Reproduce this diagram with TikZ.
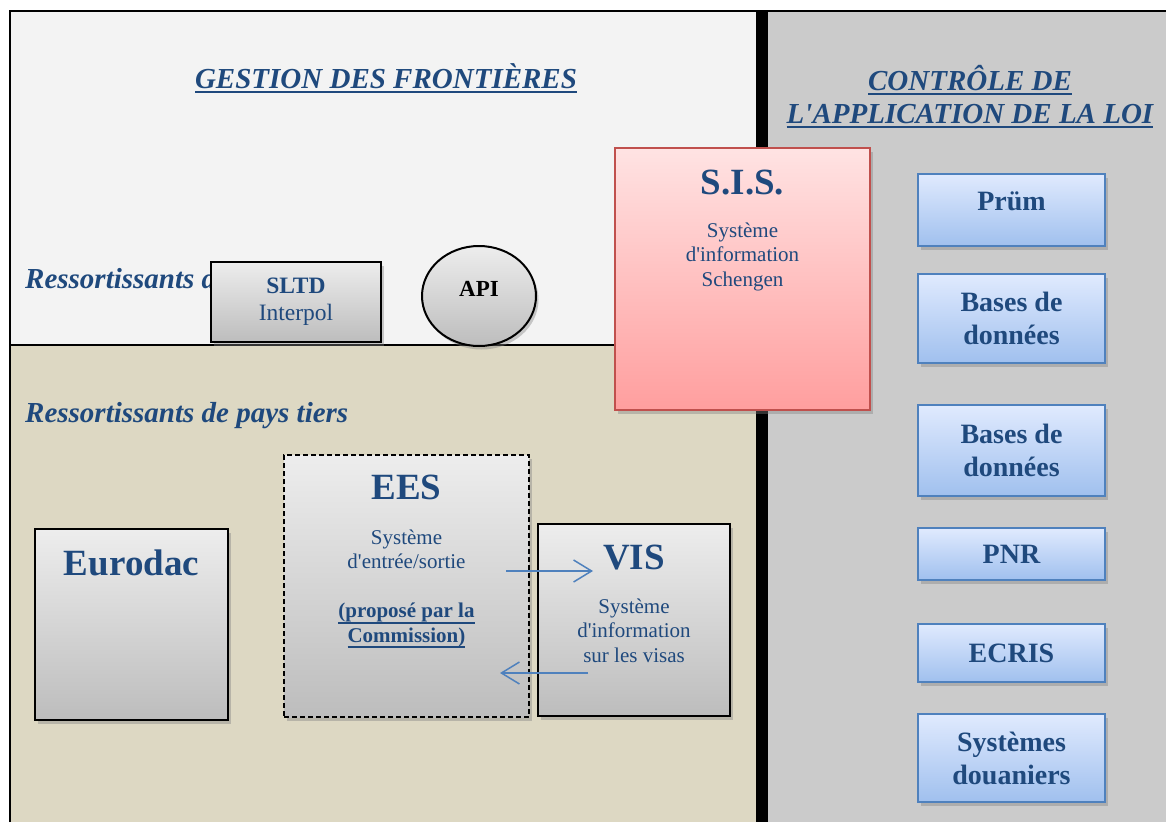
\documentclass[tikz,border=0pt]{standalone}
\usepackage{fontspec}
\setmainfont{Liberation Serif}
\usetikzlibrary{arrows.meta,shadows,shapes.geometric,positioning}

\definecolor{textblue}{HTML}{1F497D}
\definecolor{paleback}{HTML}{F3F3F3}
\definecolor{tanback}{HTML}{DDD8C3}
\definecolor{lawback}{HTML}{CBCBCB}
\definecolor{linkblue}{HTML}{4F81BD}
\definecolor{sisred}{HTML}{C0504D}
\definecolor{bluetop}{HTML}{E0EAFE}
\definecolor{bluebot}{HTML}{A0C0EE}

\newcommand\apos{\textquotesingle}
\newcommand\ulbox[2][5pt]{\setbox0=\hbox{#2}\leavevmode\rlap{\rule[-#1]{\wd0}{2pt}}\box0}

\begin{document}
\begin{tikzpicture}[x=1pt,y=-1pt]
    \tikzset{
        shade/.style={drop shadow={shadow xshift=2.5pt,shadow yshift=-3.5pt,opacity=.4}},
        graybox/.style={draw=black, line width=2pt, top color=black!7, bottom color=black!26, shade, inner sep=0pt},
        sisbox/.style={draw=sisred, line width=2pt, top color=red!11, bottom color=red!38, shade},
        lawbox/.style={draw=linkblue, line width=2pt, top color=bluetop, bottom color=bluebot, shade,
            minimum width=187pt, text=textblue, align=center, inner sep=0pt,
            font=\fontsize{28}{33}\selectfont\bfseries},
        heading/.style={text=textblue, inner sep=0pt, align=center, font=\fontsize{29}{33}\selectfont\bfseries\itshape},
        bigname/.style={text=textblue, inner sep=0pt, font=\fontsize{37}{40}\selectfont\bfseries},
        smalltext/.style={text=textblue, inner sep=0pt, align=center, font=\fontsize{21}{24.5}\selectfont},
        flow/.style={draw=linkblue, line width=1.5pt, -{Straight Barb[length=18pt,width=22pt]}}
    }
    \useasboundingbox (0,0) rectangle (1166,822);

    % zones
    \fill[paleback] (10,11) rectangle (756,345);
    \fill[tanback] (10,345) rectangle (756,822);
    \fill[lawback] (768,11) rectangle (1166,822);
    \draw[line width=1.2pt] (10,345) -- (615,345);
    \fill[black] (756,11) rectangle (768,822);
    \draw[line width=2.5pt] (10,822) -- (10,11) -- (1166,11);

    \node[heading, anchor=base] (gestion) at (386,88) {\ulbox{GESTION DES FRONTIÈRES}};
    \node[heading, anchor=base] (controle) at (970,123) {\ulbox{CONTRÔLE DE}\\\ulbox{L\apos APPLICATION DE LA LOI}};

    \node[heading, anchor=base west] (ressue) at (25,288) {Ressortissants d};
    \node[heading, anchor=base west] (resstiers) at (25,422) {Ressortissants de pays tiers};

    % frontieres
    \node[graybox, minimum width=170pt, minimum height=80pt, align=center, text=textblue,
        font=\fontsize{23.5}{27}\selectfont] (sltd) at (296,302) {\textbf{SLTD}\\Interpol};
    \node[graybox, ellipse, minimum width=114pt, minimum height=100pt] (api) at (479,296) {};
    \node[inner sep=0pt, font=\fontsize{23}{26}\selectfont\bfseries] (apilbl) at ([yshift=7pt]api.center) {API};

    \node[sisbox, minimum width=255pt, minimum height=262pt] (sis) at (742.5,279) {};
    \node[bigname, anchor=base] (sisname) at (742.5,194) {S.I.S.};
    \node[smalltext, anchor=base] (sistext) at (742.5,286) {Système\\d\apos information\\Schengen};

    \node[graybox, minimum width=193pt, minimum height=191pt] (eurodac) at (131.5,624.5) {};
    \node[bigname, anchor=base] (eurodaclbl) at (131.5,575) {Eurodac};

    \node[graybox, dash pattern=on 5pt off 3pt, line width=1.5pt, minimum width=245pt, minimum height=262pt] (ees) at (406.5,586) {};
    \node[bigname, anchor=base] (eeslbl) at (406.5,499) {EES};
    \node[smalltext, anchor=base] (eestext) at (406.5,642) {Système\\d\apos entrée/sortie\\[24.5pt]\textbf{\ulbox[6pt]{(proposé par la}}\\\textbf{\ulbox[6pt]{Commission)}}};

    \node[graybox, minimum width=192pt, minimum height=192pt] (vis) at (634,620) {};
    \node[bigname, anchor=base] (vislbl) at (634,569) {VIS};
    \node[smalltext, anchor=base] (vistext) at (634,662) {Système\\d\apos information\\sur les visas};

    \coordinate (eesout) at (506,571);
    \coordinate (visin) at (593,571);
    \coordinate (visout) at (588,673);
    \coordinate (eesin) at (500,673);
    \draw[flow] (eesout) -- (visin);
    \draw[flow] (visout) -- (eesin);

    % application de la loi
    \node[lawbox, minimum height=72pt] (prum) at (1011.5,210) {};
    \node[text=textblue, inner sep=0pt, font=\fontsize{28}{33}\selectfont\bfseries] (prumlbl) at ([yshift=9pt]prum.center) {Prüm};
    \node[lawbox, minimum height=89pt] (bases) at (1011.5,318.5) {Bases de\\données};
    \node[lawbox, minimum height=91pt] (basesb) at (1011.5,450.5) {Bases de\\données};
    \node[lawbox, minimum height=52pt] (pnr) at (1011.5,554) {PNR};
    \node[lawbox, minimum height=58pt] (ecris) at (1011.5,653) {ECRIS};
    \node[lawbox, minimum height=88pt] (douane) at (1011.5,758) {Systèmes\\douaniers};
\end{tikzpicture}
\end{document}
